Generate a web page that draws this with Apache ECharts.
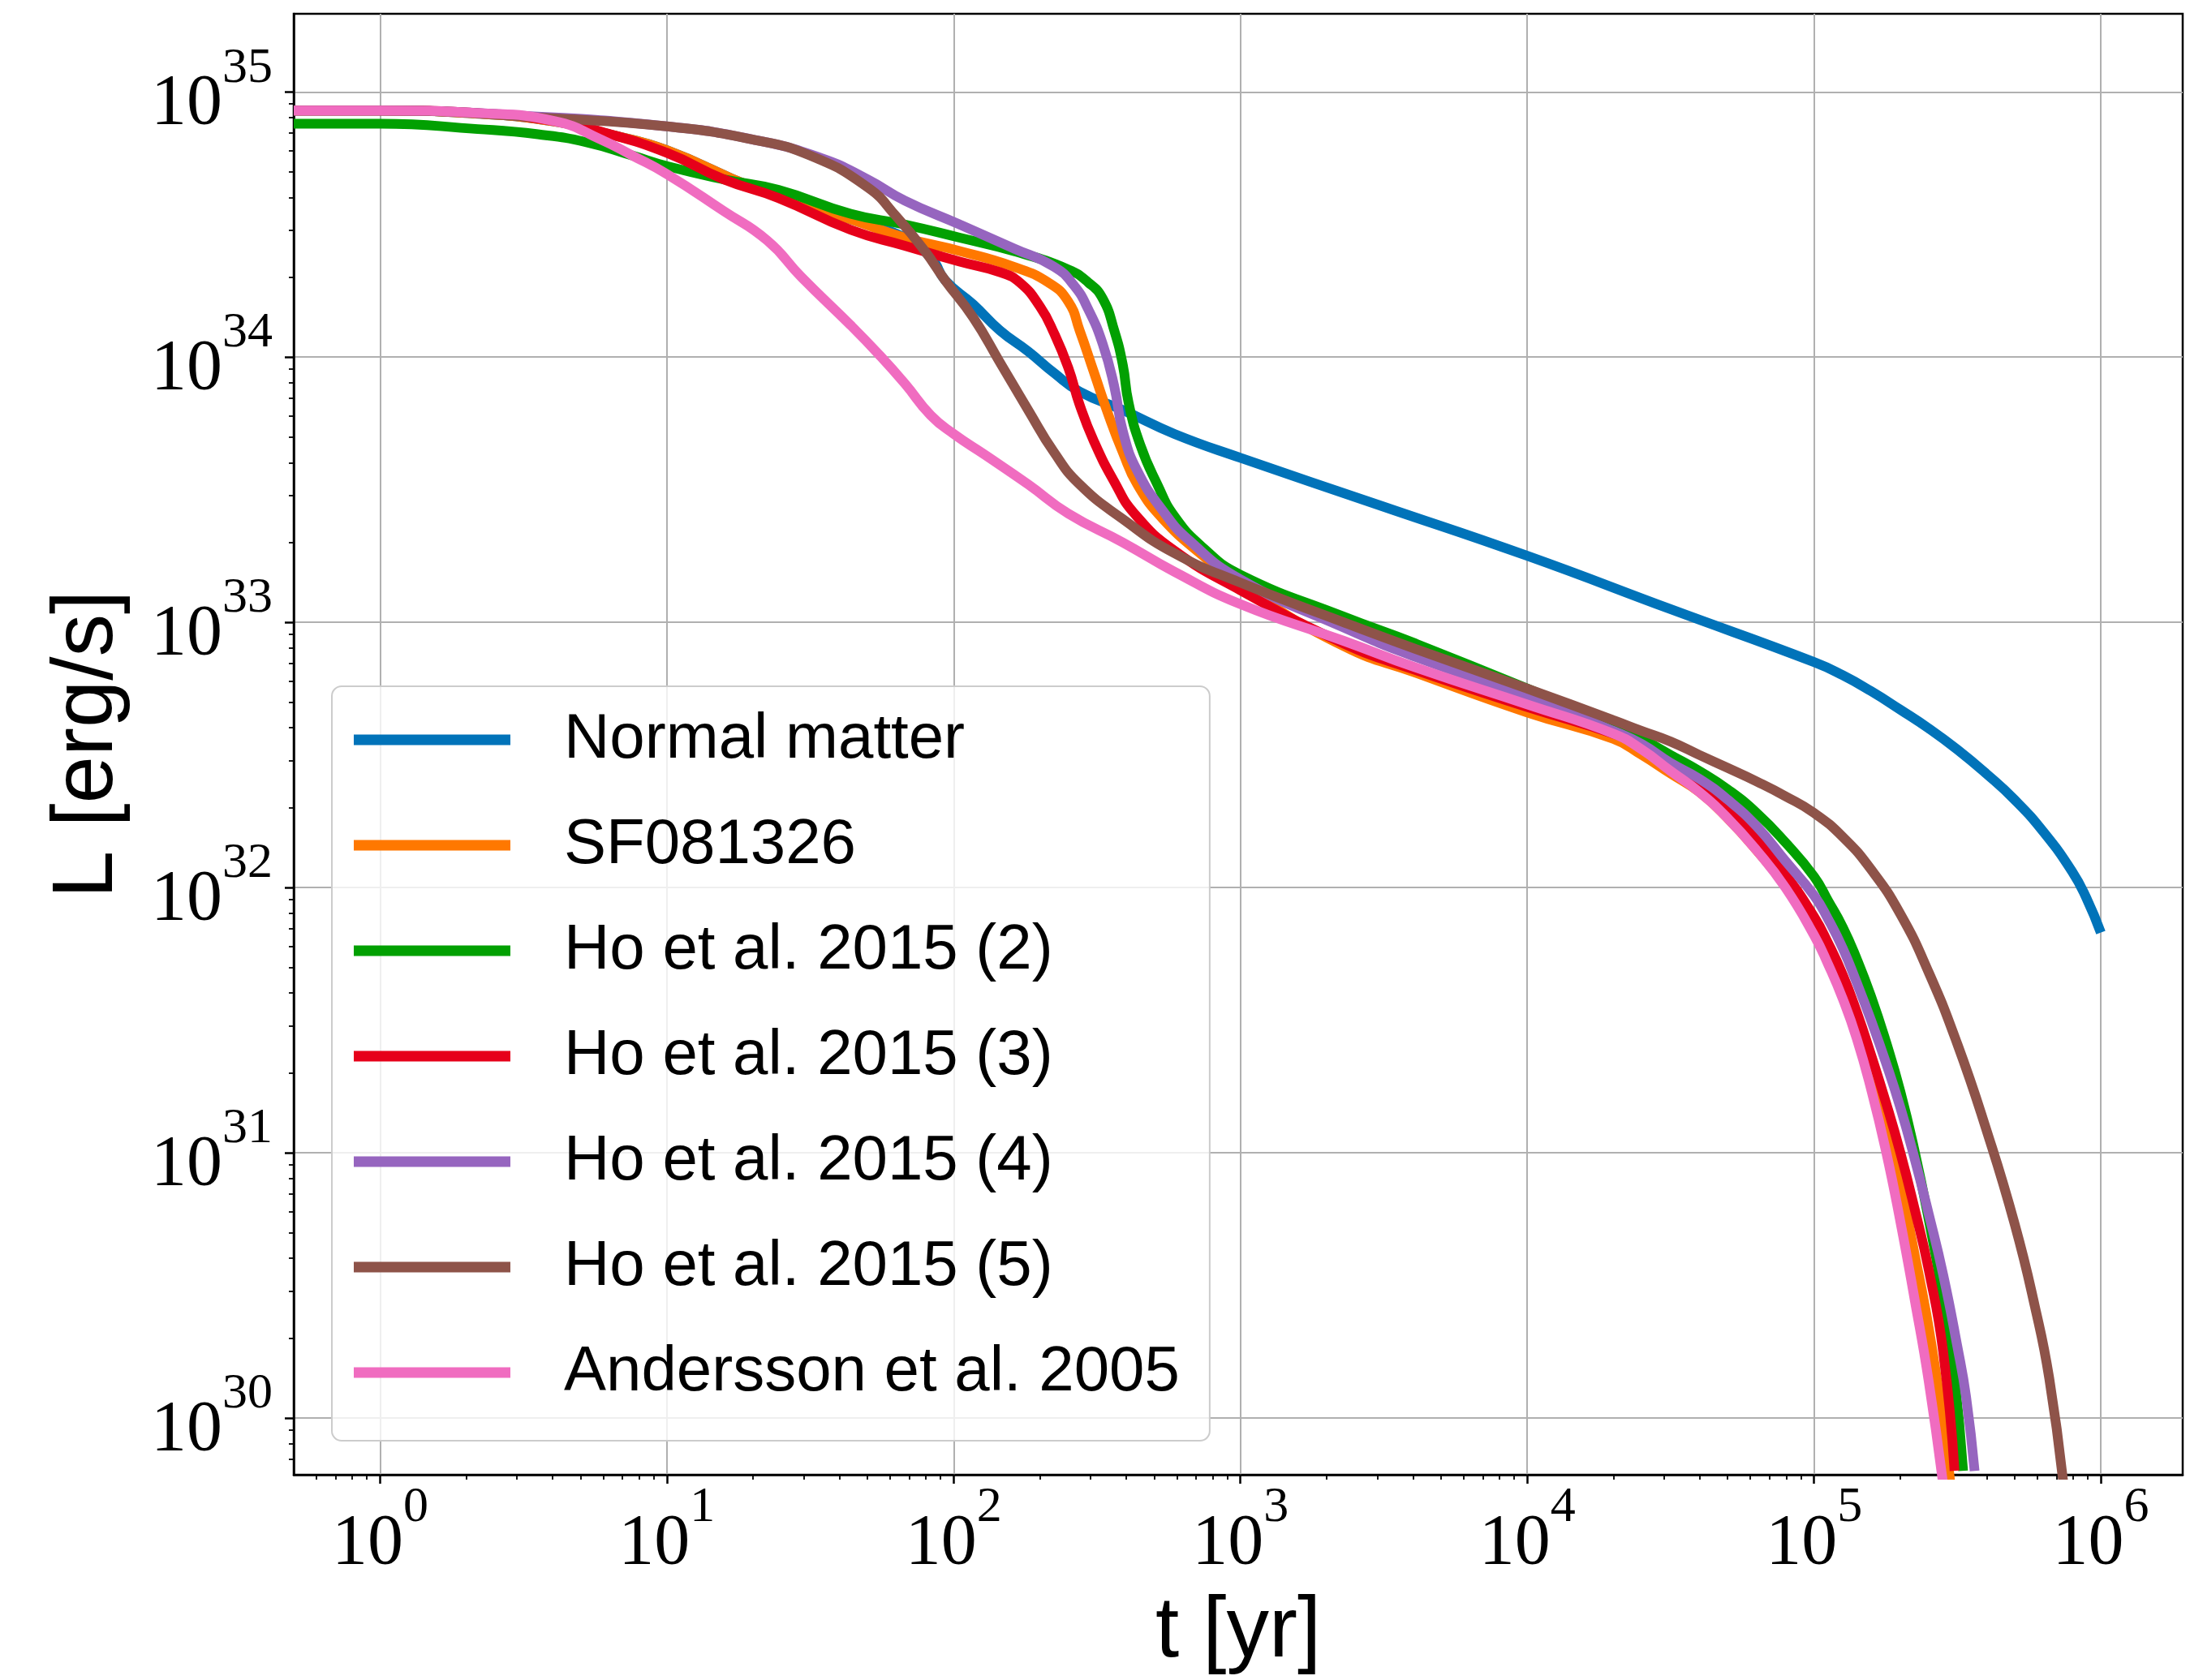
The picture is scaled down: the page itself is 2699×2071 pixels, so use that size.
<!DOCTYPE html>
<html>
<head>
<meta charset="utf-8">
<title>L vs t</title>
<script src="https://cdn.jsdelivr.net/npm/echarts@6/dist/echarts.min.js"></script>
<style>
html, body { margin: 0; padding: 0; background: #ffffff; }
#chart { width: 2699px; height: 2071px; }
</style>
</head>
<body>
<div id="chart"></div>
<script>
// values: t in yr, L in erg/s
const tNormal = [0.5, 1, 2.0, 3.98, 6.31, 10, 20, 43.7, 67.6, 84.1, 93.3, 117, 145, 182, 224, 275, 389, 589, 1000, 3090, 1e4, 3.16e4, 1e5, 1.26e5, 1.58e5, 2.00e5, 2.51e5, 3.16e5, 3.98e5, 5.01e5, 6.31e5, 7.94e5, 8.91e5, 1e6];
const lNormal = [8.51e34, 8.51e34, 8.32e34, 7.76e34, 6.92e34, 6.03e34, 4.37e34, 3.31e34, 2.82e34, 2.34e34, 1.95e34, 1.58e34, 1.26e34, 1.05e34, 8.71e33, 7.41e33, 6.31e33, 5.13e33, 4.17e33, 2.75e33, 1.78e33, 1.12e33, 7.08e32, 6.31e32, 5.50e32, 4.68e32, 3.98e32, 3.31e32, 2.69e32, 2.14e32, 1.62e32, 1.15e32, 9.12e31, 6.76e31];

const tSF = [0.5, 1, 2.0, 3.98, 6.31, 10, 20, 43.7, 67.6, 105, 162, 214, 251, 275, 309, 347, 389, 437, 537, 741, 1000, 2290, 4070, 1e4, 2.00e4, 2.51e4, 3.16e4, 3.98e4, 5.01e4, 6.31e4, 7.94e4, 1e5, 1.12e5, 1.26e5, 1.41e5, 1.58e5, 1.78e5, 2.00e5, 2.24e5, 2.51e5, 2.82e5, 2.99e5];
const lSF = [8.51e34, 8.51e34, 8.32e34, 7.76e34, 6.92e34, 6.03e34, 4.37e34, 3.31e34, 2.82e34, 2.51e34, 2.19e34, 1.91e34, 1.62e34, 1.26e34, 8.71e33, 6.03e33, 4.37e33, 3.31e33, 2.45e33, 1.78e33, 1.38e33, 8.13e32, 6.46e32, 4.57e32, 3.63e32, 3.16e32, 2.69e32, 2.29e32, 1.82e32, 1.38e32, 1.02e32, 7.08e31, 5.50e31, 4.17e31, 3.02e31, 2.04e31, 1.29e31, 7.59e30, 4.17e30, 2.19e30, 9.55e29, 5.62e29];

const tHo2 = [0.5, 1, 2.19, 3.55, 5.25, 7.59, 10, 15.8, 24.5, 43.7, 67.6, 105, 162, 251, 295, 331, 363, 389, 407, 447, 513, 589, 741, 1000, 2290, 4070, 1e4, 2.00e4, 2.51e4, 3.16e4, 3.98e4, 5.01e4, 6.31e4, 7.94e4, 1e5, 1.12e5, 1.26e5, 1.41e5, 1.58e5, 1.78e5, 2.00e5, 2.24e5, 2.51e5, 2.82e5, 3.09e5, 3.31e5];
const lHo2 = [7.59e34, 7.59e34, 7.24e34, 6.92e34, 6.46e34, 5.75e34, 5.25e34, 4.68e34, 4.27e34, 3.47e34, 3.16e34, 2.82e34, 2.51e34, 2.14e34, 1.91e34, 1.66e34, 1.26e34, 9.33e33, 6.76e33, 4.68e33, 3.31e33, 2.51e33, 1.91e33, 1.51e33, 1.05e33, 8.32e32, 5.62e32, 4.07e32, 3.63e32, 3.16e32, 2.75e32, 2.34e32, 1.91e32, 1.48e32, 1.10e32, 8.91e31, 7.08e31, 5.37e31, 3.89e31, 2.63e31, 1.70e31, 1.02e31, 5.62e30, 2.82e30, 1.41e30, 6.31e29];

const tHo3 = [0.5, 1, 2.19, 4.07, 5.89, 10, 15.8, 24.5, 43.7, 67.6, 105, 145, 170, 200, 224, 251, 275, 309, 363, 427, 589, 1000, 2290, 4070, 1e4, 2.00e4, 2.51e4, 3.16e4, 3.98e4, 5.01e4, 6.31e4, 7.94e4, 1e5, 1.12e5, 1.26e5, 1.41e5, 1.58e5, 1.78e5, 2.00e5, 2.24e5, 2.51e5, 2.82e5, 3.09e5];
const lHo3 = [8.51e34, 8.51e34, 8.32e34, 7.76e34, 7.08e34, 5.89e34, 4.68e34, 3.98e34, 3.02e34, 2.63e34, 2.29e34, 2.09e34, 1.91e34, 1.55e34, 1.23e34, 9.12e33, 6.61e33, 4.79e33, 3.39e33, 2.57e33, 1.86e33, 1.32e33, 8.32e32, 6.61e32, 4.79e32, 3.80e32, 3.39e32, 2.82e32, 2.40e32, 1.95e32, 1.51e32, 1.12e32, 7.76e31, 6.17e31, 4.68e31, 3.39e31, 2.34e31, 1.55e31, 1.00e31, 6.17e30, 3.63e30, 1.78e30, 6.31e29];

const tHo4 = [0.5, 1, 3.16, 10, 20, 34.7, 50.1, 67.6, 105, 162, 224, 263, 295, 331, 363, 389, 437, 537, 661, 1000, 2290, 4070, 1e4, 2.00e4, 2.51e4, 3.16e4, 3.98e4, 5.01e4, 6.31e4, 7.94e4, 1e5, 1.12e5, 1.26e5, 1.41e5, 1.58e5, 1.78e5, 2.00e5, 2.24e5, 2.51e5, 2.82e5, 3.16e5, 3.39e5, 3.63e5];
const lHo4 = [8.51e34, 8.51e34, 8.13e34, 7.41e34, 6.61e34, 5.62e34, 4.68e34, 3.89e34, 3.16e34, 2.57e34, 2.19e34, 1.86e34, 1.51e34, 1.12e34, 7.76e33, 5.25e33, 3.72e33, 2.63e33, 2.04e33, 1.45e33, 9.55e32, 7.41e32, 5.25e32, 3.89e32, 3.47e32, 2.95e32, 2.57e32, 2.14e32, 1.70e32, 1.26e32, 9.33e31, 7.59e31, 5.89e31, 4.37e31, 3.16e31, 2.19e31, 1.48e31, 9.55e30, 5.89e30, 3.47e30, 1.86e30, 1.20e30, 6.31e29];

const tHo5 = [0.5, 1, 4.07, 10, 20, 31.6, 50.1, 63.1, 79.4, 93.3, 117, 145, 182, 224, 275, 389, 589, 1000, 2290, 4070, 1e4, 2.00e4, 2.51e4, 3.16e4, 3.98e4, 5.01e4, 6.31e4, 7.94e4, 1e5, 1.26e5, 1.58e5, 2.00e5, 2.51e5, 3.16e5, 3.98e5, 5.01e5, 5.89e5, 6.61e5, 7.41e5];
const lHo5 = [8.51e34, 8.51e34, 7.94e34, 7.41e34, 6.61e34, 5.75e34, 4.37e34, 3.39e34, 2.51e34, 1.95e34, 1.41e34, 9.55e33, 6.31e33, 4.37e33, 3.31e33, 2.45e33, 1.82e33, 1.41e33, 1.00e33, 7.94e32, 5.62e32, 4.27e32, 3.89e32, 3.55e32, 3.16e32, 2.82e32, 2.51e32, 2.21e32, 1.91e32, 1.55e32, 1.17e32, 7.94e31, 4.79e31, 2.57e31, 1.23e31, 5.37e30, 2.63e30, 1.41e30, 5.62e29];

const tAnd = [0.5, 1, 2.19, 4.07, 5.89, 7.59, 10, 15.8, 22.4, 29.5, 43.7, 55.0, 67.6, 83.2, 100, 129, 182, 251, 389, 589, 1000, 2290, 4070, 1e4, 2.00e4, 2.51e4, 3.16e4, 3.98e4, 5.01e4, 6.31e4, 7.94e4, 1e5, 1.12e5, 1.26e5, 1.41e5, 1.58e5, 1.78e5, 2.00e5, 2.24e5, 2.51e5, 2.82e5];
const lAnd = [8.51e34, 8.51e34, 8.32e34, 7.76e34, 6.61e34, 5.75e34, 4.90e34, 3.55e34, 2.75e34, 2.00e34, 1.32e34, 1.02e34, 7.94e33, 6.03e33, 5.13e33, 4.27e33, 3.31e33, 2.57e33, 2.00e33, 1.55e33, 1.17e33, 8.51e32, 6.76e32, 4.90e32, 3.80e32, 3.31e32, 2.75e32, 2.29e32, 1.82e32, 1.38e32, 1.00e32, 6.61e31, 5.13e31, 3.80e31, 2.69e31, 1.74e31, 1.02e31, 5.50e30, 2.82e30, 1.38e30, 5.62e29];

const names = ['Normal matter', 'SF081326', 'Ho et al. 2015 (2)', 'Ho et al. 2015 (3)', 'Ho et al. 2015 (4)', 'Ho et al. 2015 (5)', 'Andersson et al. 2005'];
const colors = ['#0173b9', '#ff7800', '#02a002', '#e6001a', '#9665bf', '#8e5349', '#f06cc0'];
const tLists = [tNormal, tSF, tHo2, tHo3, tHo4, tHo5, tAnd];
const lLists = [lNormal, lSF, lHo2, lHo3, lHo4, lHo5, lAnd];

// axis ranges and tick values
const xMin = 0.5, xMax = 1.93e6;
const yMin = 6.1e29, yMax = 1.97e35;
const xMajor = [1, 10, 100, 1e3, 1e4, 1e5, 1e6];
const yMajor = [1e30, 1e31, 1e32, 1e33, 1e34, 1e35];

function minorTicks(lo, hi) {
  const out = [];
  for (let n = Math.floor(Math.log10(lo)); n <= Math.floor(Math.log10(hi)); n++) {
    for (let k = 2; k <= 9; k++) {
      const v = parseFloat((k * Math.pow(10, n)).toPrecision(3));
      if (v > lo && v < hi) out.push(v);
    }
  }
  return out;
}

function powLabel(v) {
  return '{b|10}{s|' + Math.round(Math.log10(v)) + '}';
}

const richLabel = {
  b: { fontFamily: 'Liberation Serif', fontSize: 88, lineHeight: 120, verticalAlign: 'bottom', color: '#000' },
  s: { fontFamily: 'Liberation Serif', fontSize: 62, lineHeight: 62, verticalAlign: 'top', color: '#000' }
};

const nameStyle = { fontFamily: 'Liberation Sans', fontSize: 105, color: '#000' };

const chart = echarts.init(document.getElementById('chart'));
chart.setOption({
  animation: false,
  backgroundColor: '#ffffff',
  grid: {
    left: 362, right: 9, top: 17, bottom: 253,
    show: true, borderColor: '#000', borderWidth: 2.5
  },
  legend: {
    orient: 'vertical',
    left: 409, top: 846,
    icon: 'rect',
    itemWidth: 193, itemHeight: 13, itemGap: 30,
    padding: [16, 37, 34, 27],
    backgroundColor: 'rgba(255,255,255,0.8)',
    borderColor: '#cccccc', borderWidth: 2, borderRadius: 12,
    textStyle: { fontFamily: 'Liberation Sans', fontSize: 78, lineHeight: 100, color: '#000', padding: [0, 0, 0, 61] },
    data: names
  },
  xAxis: [
    {
      type: 'log', logBase: 10, min: xMin, max: xMax, position: 'bottom',
      name: 't [yr]', nameLocation: 'middle', nameGap: 143, nameTextStyle: nameStyle,
      axisLine: { show: true, lineStyle: { color: '#000', width: 2.5 } },
      axisTick: { show: true, customValues: xMajor, length: 11, lineStyle: { color: '#000', width: 2.5 } },
      axisLabel: { customValues: xMajor, formatter: powLabel, margin: 10, rich: richLabel },
      splitLine: { show: true, lineStyle: { color: '#b0b0b0', width: 2 } }
    },
    {
      // minor ticks only
      type: 'log', logBase: 10, min: xMin, max: xMax, position: 'bottom',
      axisLine: { show: false },
      axisTick: { show: true, customValues: minorTicks(xMin, xMax), length: 6, lineStyle: { color: '#000', width: 1.8 } },
      axisLabel: { show: false },
      splitLine: { show: false }
    }
  ],
  yAxis: [
    {
      type: 'log', logBase: 10, min: yMin, max: yMax, position: 'left',
      name: 'L [erg/s]', nameLocation: 'middle', nameRotate: 90, nameGap: 200, nameTextStyle: nameStyle,
      axisLine: { show: true, lineStyle: { color: '#000', width: 2.5 } },
      axisTick: { show: true, customValues: yMajor, length: 11, lineStyle: { color: '#000', width: 2.5 } },
      axisLabel: { customValues: yMajor, formatter: powLabel, margin: 26, rich: richLabel },
      splitLine: { show: true, lineStyle: { color: '#b0b0b0', width: 2 } }
    },
    {
      type: 'log', logBase: 10, min: yMin, max: yMax, position: 'left',
      axisLine: { show: false },
      axisTick: { show: true, customValues: minorTicks(yMin, yMax), length: 6, lineStyle: { color: '#000', width: 1.8 } },
      axisLabel: { show: false },
      splitLine: { show: false }
    }
  ],
  series: names.map((n, i) => ({
    name: n,
    type: 'line',
    xAxisIndex: 0,
    yAxisIndex: 0,
    data: tLists[i].map((t, j) => [t, lLists[i][j]]),
    symbol: 'none',
    smooth: 0.5,
    color: colors[i],
    lineStyle: { width: 12, color: colors[i] }
  }))
});
</script>
</body>
</html>
